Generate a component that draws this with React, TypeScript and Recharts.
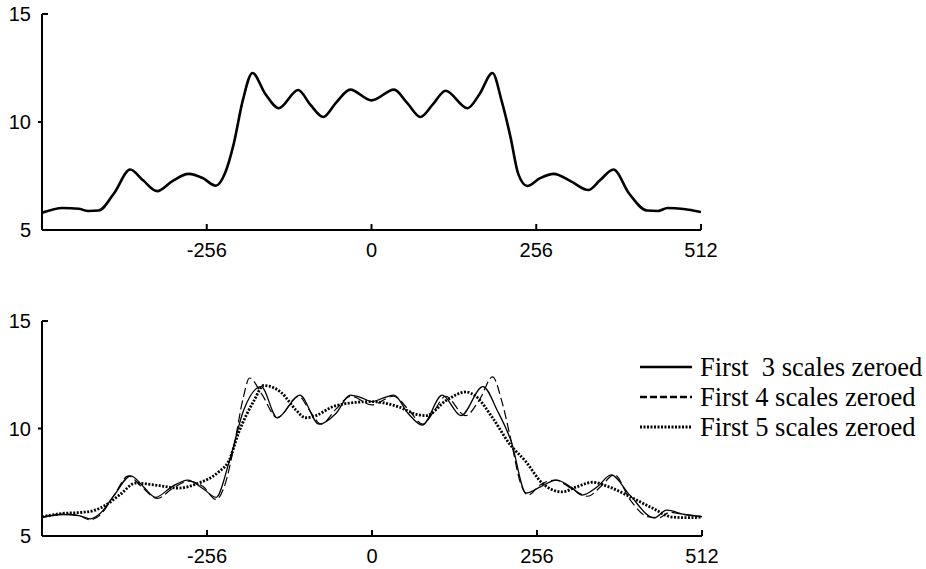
import React from "react";
import { LineChart, Line, XAxis, YAxis, Legend } from "recharts";

// reconstructed signal (top panel)
const topX = [
  -512, -480, -455, -440, -424, -400, -375, -355, -333, -310, -284, -262, -242, -228, -214, -200, -185, -165, -144,
  -114, -95, -75, -55, -33, 0, 35, 55, 76, 95, 115, 149, 168, 188, 202, 216, 228, 242, 262, 283, 310, 337, 355,
  376, 400, 428, 445, 460, 485, 512,
];
const topY = [
  5.8, 6.02, 5.98, 5.88, 5.9, 6.7, 7.8, 7.3, 6.8, 7.25, 7.6, 7.4, 7.05, 7.6, 9.0, 11.0, 12.27, 11.3, 10.64,
  11.48, 10.8, 10.23, 10.9, 11.5, 11.0, 11.5, 10.9, 10.23, 10.8, 11.45, 10.64, 11.3, 12.27, 11.0, 9.3, 7.6, 7.04,
  7.4, 7.6, 7.25, 6.85, 7.3, 7.8, 6.7, 5.9, 5.88, 6.02, 5.97, 5.83,
];

// bottom panel: first 3 scales zeroed
const s3X = [
  -512, -480, -455, -437, -421, -400, -374, -355, -336, -310, -286, -262, -242, -222, -199, -172, -147, -112, -82,
  -56, -34, -18, 0, 20, 34, 56, 78, 109, 138, 172, 195, 216, 239, 262, 286, 310, 326, 350, 371, 400, 438, 457,
  485, 512,
];
const s3Y = [
  5.88, 6.0, 5.95, 5.8, 6.07, 6.9, 7.8, 7.3, 6.8, 7.3, 7.6, 7.2, 6.8, 8.4, 10.86, 11.95, 10.5, 11.55, 10.2,
  10.7, 11.55, 11.45, 11.25, 11.45, 11.55, 10.7, 10.16, 11.55, 10.6, 11.95, 10.8, 9.4, 7.0, 7.3, 7.6, 7.25, 6.9,
  7.3, 7.84, 6.9, 5.84, 6.2, 6.0, 5.9,
];

// first 4 scales zeroed
const s4X = [
  -512, -480, -455, -437, -421, -400, -378, -358, -333, -310, -284, -262, -242, -228, -214, -200, -190, -171, -147,
  -114, -96, -79, -56, -33, 0, 33, 56, 79, 96, 114, 145, 168, 187, 202, 216, 230, 242, 262, 284, 310, 335, 355,
  376, 400, 428, 445, 462, 485, 512,
];
const s4Y = [
  5.85, 6.02, 5.95, 5.75, 6.0, 6.9, 7.8, 7.3, 6.75, 7.2, 7.55, 7.3, 6.7, 7.4, 9.2, 11.4, 12.35, 11.6, 10.5,
  11.5, 10.8, 10.2, 10.9, 11.5, 11.1, 11.5, 10.9, 10.2, 10.8, 11.5, 10.6, 11.4, 12.4, 11.2, 9.4, 7.5, 6.9,
  7.4, 7.6, 7.2, 6.85, 7.3, 7.85, 6.7, 5.9, 5.85, 6.1, 6.0, 5.9,
];

// first 5 scales zeroed
const s5X = [
  -512, -480, -450, -430, -413, -390, -367, -336, -300, -269, -238, -222, -207, -183, -168, -140, -118, -103, -87,
  -62, -36, 0, 42, 70, 84, 115, 146, 161, 187, 213, 239, 264, 295, 317, 342, 368, 404, 435, 466, 490, 512,
];
const s5Y = [
  5.9, 6.05, 6.1, 6.2, 6.44, 6.95, 7.46, 7.37, 7.23, 7.46, 7.98, 8.5, 9.8, 11.3, 12.0, 11.65, 10.86, 10.5, 10.6,
  11.0, 11.18, 11.25, 11.0, 10.65, 10.6, 11.3, 11.7, 11.5, 10.5, 9.3, 8.45, 7.46, 7.05, 7.28, 7.5, 7.28, 6.77,
  6.3, 5.88, 5.85, 5.88,
];

const xTicks = [-256, 0, 256, 512];
const yTicks = [5, 10, 15];
const legendNames = ["First  3 scales zeroed", "First 4 scales zeroed", "First 5 scales zeroed"];

const zip = (xs: number[], ys: number[]) => xs.map((x, i) => ({ x, y: ys[i] }));

const topData = zip(topX, topY);
const s3Data = zip(s3X, s3Y);
const s4Data = zip(s4X, s4Y);
const s5Data = zip(s5X, s5Y);

const AXIS_FONT = "'Liberation Sans', Arial, sans-serif";

const XTick = (props: any) => {
  const { x, y, payload } = props;
  return (
    <g>
      <line x1={x} x2={x} y1={y} y2={y - 6} stroke="#000" strokeWidth={2} />
      <text x={x} y={y + 27} textAnchor="middle" fontFamily={AXIS_FONT} fontSize={20} fill="#000">
        {payload.value}
      </text>
    </g>
  );
};

const YTick = (props: any) => {
  const { x, y, payload } = props;
  const v = payload.value;
  return (
    <g>
      {v === 15 && <line x1={x} x2={x + 6} y1={y} y2={y} stroke="#000" strokeWidth={2} />}
      {v === 10 && <line x1={x - 4} x2={x} y1={y} y2={y} stroke="#000" strokeWidth={2} />}
      <text x={x - 11} y={y} dy="0.36em" textAnchor="end" fontFamily={AXIS_FONT} fontSize={20} fill="#000">
        {v}
      </text>
    </g>
  );
};

const legendStyles = [
  { dash: undefined, width: 2.5 },
  { dash: "7 3", width: 2.5 },
  { dash: "2 1.5", width: 2.8 },
];

const renderLegend = () => (
  <div style={{ fontFamily: "'Liberation Serif', 'Times New Roman', serif", fontSize: 26.5, color: "#000" }}>
    {legendNames.map((name, i) => (
      <div key={name} style={{ display: "flex", alignItems: "center", height: 30, whiteSpace: "pre" }}>
        <svg width={52} height={10} style={{ marginRight: 8 }}>
          <line
            x1={0}
            x2={52}
            y1={5}
            y2={5}
            stroke="#000"
            strokeWidth={legendStyles[i].width}
            strokeDasharray={legendStyles[i].dash}
          />
        </svg>
        <span>{name}</span>
      </div>
    ))}
  </div>
);

const axes = (
  <>
    <XAxis
      type="number"
      dataKey="x"
      domain={[-512, 512]}
      ticks={xTicks}
      allowDataOverflow
      height={30}
      tickSize={0}
      tickMargin={0}
      tickLine={false}
      tick={<XTick />}
      axisLine={{ stroke: "#000", strokeWidth: 2 }}
    />
    <YAxis
      type="number"
      domain={[5, 15]}
      ticks={yTicks}
      width={42}
      tickSize={0}
      tickMargin={0}
      tickLine={false}
      tick={<YTick />}
      axisLine={{ stroke: "#000", strokeWidth: 2 }}
    />
  </>
);

export default function App() {
  return (
    <div style={{ position: "absolute", left: 0, top: 0, width: 926, height: 569, background: "#fff" }}>
      <div style={{ position: "absolute", left: 0, top: 0 }}>
        <LineChart width={926} height={284} margin={{ top: 14, right: 225, bottom: 24, left: 0 }}>
          {axes}
          <Line
            data={topData}
            dataKey="y"
            type="monotone"
            stroke="#000"
            strokeWidth={2.6}
            dot={false}
            isAnimationActive={false}
          />
        </LineChart>
      </div>
      <div style={{ position: "absolute", left: 0, top: 300 }}>
        <LineChart width={926} height={269} margin={{ top: 21, right: 224, bottom: 3, left: 0 }}>
          {axes}
          <Line
            data={s3Data}
            dataKey="y"
            name={legendNames[0]}
            type="monotone"
            stroke="#000"
            strokeWidth={1.3}
            dot={false}
            isAnimationActive={false}
          />
          <Line
            data={s4Data}
            dataKey="y"
            name={legendNames[1]}
            type="monotone"
            stroke="#000"
            strokeWidth={1.2}
            strokeDasharray="9 4"
            dot={false}
            isAnimationActive={false}
          />
          <Line
            data={s5Data}
            dataKey="y"
            name={legendNames[2]}
            type="monotone"
            stroke="#000"
            strokeWidth={2.8}
            strokeDasharray="2 1.5"
            dot={false}
            isAnimationActive={false}
          />
          <Legend
            layout="vertical"
            align="center"
            verticalAlign="middle"
            content={renderLegend}
            wrapperStyle={{ left: 640, top: 52, width: 290 }}
          />
        </LineChart>
      </div>
    </div>
  );
}
